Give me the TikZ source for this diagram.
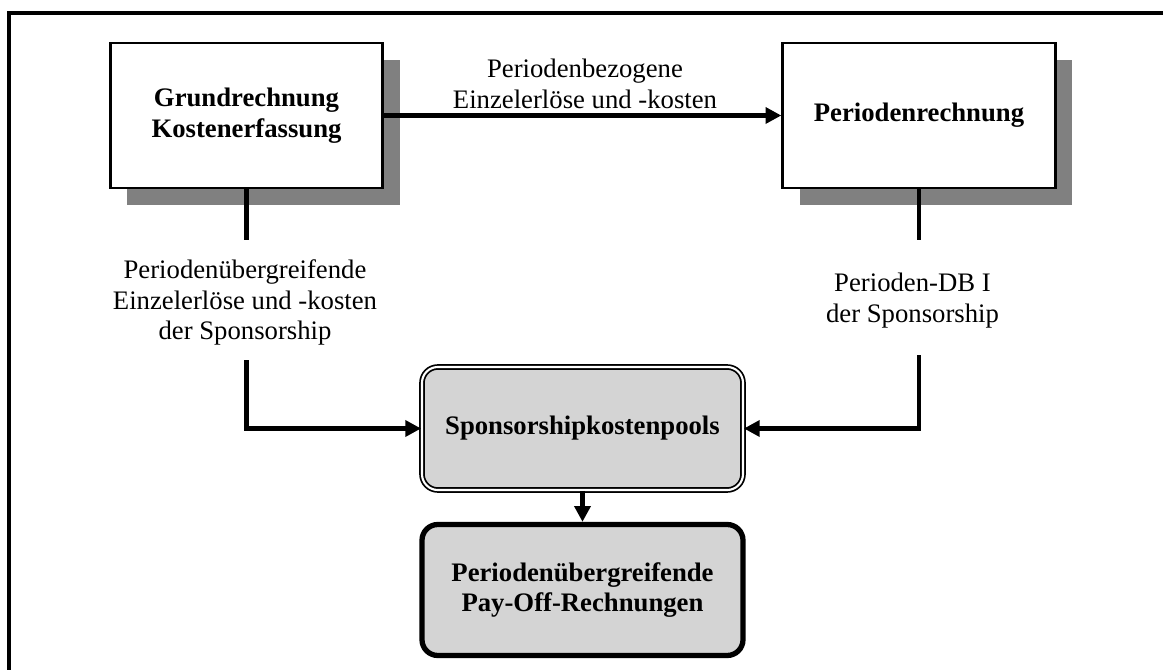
\documentclass[tikz,border=0pt]{standalone}
\usepackage{fontspec}
\setmainfont{Liberation Serif}
\usetikzlibrary{arrows.meta,positioning,shadows}

\begin{document}
\begin{tikzpicture}[
    calcbox/.style={draw, line width=1.6pt, fill=white, minimum width=5.45cm, minimum height=2.9cm,
        align=center, font=\fontsize{15.2}{17.5}\selectfont\bfseries,
        drop shadow={shadow xshift=0.34cm, shadow yshift=-0.34cm, opacity=1, fill=black!50}},
    poolbox/.style={draw, rounded corners=9pt, fill=black!17, minimum width=6.42cm, align=center,
        font=\fontsize{15.2}{17.5}\selectfont\bfseries},
    flowlbl/.style={align=center, font=\fontsize{15.2}{17.6}\selectfont, inner sep=3pt},
    flow/.style={line width=2.5pt, -{Triangle[length=9pt, width=9pt]}},
    plain/.style={line width=2.5pt}
]
    % page and outer frame
    \useasboundingbox (0,0) rectangle (23.26,-13.4);
    \clip (0,0) rectangle (23.26,-13.4);
    \draw[line width=1.8pt] (0.18,-14) -- (0.18,-0.26) -- (24,-0.26);

    % calculation boxes
    \node[calcbox] (grund) at (4.93,-2.31) {Grundrechnung\\Kostenerfassung};
    \node[calcbox] (period) at (18.38,-2.31) {Periodenrechnung};

    % pools
    \node[poolbox, minimum height=2.46cm, line width=1pt, double=white, double distance=1.2pt] (pool) at (11.65,-8.57) {Sponsorshipkostenpools};
    \node[poolbox, minimum height=2.62cm, line width=3pt] (payoff) at (11.65,-11.8) {Periodenübergreifende\\Pay-Off-Rechnungen};

    % labels
    \node[flowlbl] (lblTop) at (11.7,-1.68) {Periodenbezogene\\Einzelerlöse und -kosten};
    \node[flowlbl] (lblLeft) at (4.9,-6.05) {Periodenübergreifende\\Einzelerlöse und -kosten\\der Sponsorship};
    \node[flowlbl] (lblRight) at (18.25,-6.02) {Perioden-DB I\\der Sponsorship};

    % connectors
    \draw[flow] (grund.east) -- (period.west);
    \draw[plain] (grund.south) -- (grund.south |- 0,-4.8);
    \draw[flow] (grund.south |- 0,-7.2) |- (pool.west);
    \draw[plain] (period.south) -- (period.south |- 0,-4.8);
    \draw[flow] (period.south |- 0,-7.1) |- (pool.east);
    \draw[flow] (pool.south) -- (payoff.north);
\end{tikzpicture}
\end{document}
